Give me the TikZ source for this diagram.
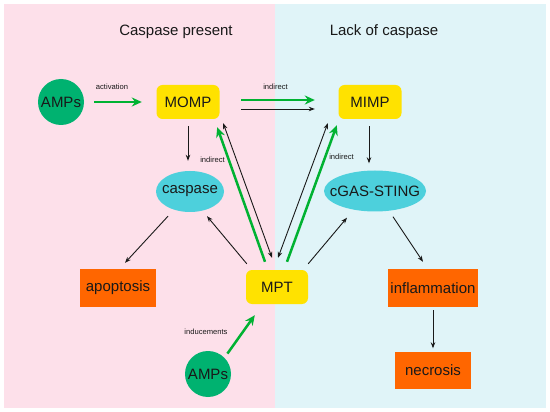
\documentclass[tikz,border=0pt]{standalone}
\usepackage{fontspec}
\setmainfont{Liberation Sans}
\usetikzlibrary{shapes.geometric,arrows.meta}
\definecolor{bgpink}{RGB}{253,224,234}
\definecolor{bgblue}{RGB}{224,244,248}
\definecolor{ampgreen}{RGB}{0,178,112}
\definecolor{arrowgreen}{RGB}{0,178,50}
\definecolor{boxyellow}{RGB}{255,226,0}
\definecolor{blobcyan}{RGB}{77,208,220}
\definecolor{boxorange}{RGB}{255,102,0}
\definecolor{inkgray}{RGB}{25,25,25}
\begin{document}
\begin{tikzpicture}[x=1pt, y=-1pt,
  big/.style={font=\fontsize{15}{18}\selectfont, text=inkgray},
  tiny/.style={font=\fontsize{7.6}{9}\selectfont, text=inkgray},
  amp/.style={big, circle, fill=ampgreen, minimum size=46pt, inner sep=0pt},
  yellowbox/.style={big, rectangle, rounded corners=6pt, fill=boxyellow, minimum width=63pt, minimum height=34pt},
  blob/.style={big, ellipse, fill=blobcyan, minimum height=41pt, inner xsep=-20pt, inner ysep=0pt},
  orangebox/.style={big, rectangle, fill=boxorange, minimum height=38pt, inner xsep=2pt},
  blackarr/.style={-{Stealth[length=6pt,width=4.5pt]}, line width=0.9pt, inkgray},
  botharr/.style={{Stealth[length=6pt,width=4.5pt]}-{Stealth[length=6pt,width=4.5pt]}, line width=0.9pt, inkgray},
  greenarr/.style={-{Stealth[length=10pt,width=9pt]}, line width=2.5pt, arrowgreen}]
\useasboundingbox (0,0) rectangle (550,412);
% two halves
\fill[bgpink] (4,4) rectangle (275,408);
\fill[bgblue] (275,4) rectangle (546,408);
\node[big] (leftTitle) at (176,32) {Caspase present};
\node[big] (rightTitle) at (384,32) {Lack of caspase};
% nodes
\node[amp] (ampTop) at (61,102) {AMPs};
\node[yellowbox] (momp) at (188,102) {MOMP};
\node[yellowbox] (mimp) at (370,102) {MIMP};
\node[blob, minimum width=68pt] (caspase) at (190,191.5) {caspase};
\node[blob, minimum width=102pt] (cgas) at (375,191) {cGAS-STING};
\node[orangebox, minimum width=76pt] (apoptosis) at (118,288) {apoptosis};
\node[yellowbox, minimum width=62pt] (mpt) at (277,287) {MPT};
\node[orangebox, minimum width=90pt] (inflammation) at (433,288) {inflammation};
\node[orangebox, minimum width=76pt, minimum height=37pt] (necrosis) at (433,370.5) {necrosis};
\node[amp] (ampBottom) at (208,374) {AMPs};
% labels
\node[tiny] (activationLbl) at (112,87) {activation};
\node[tiny] (indirectTop) at (275.5,87) {indirect};
\node[tiny] (indirectLeft) at (212.5,160) {indirect};
\node[tiny] (indirectRight) at (341.5,157) {indirect};
\node[tiny] (inducementsLbl) at (206,332) {inducements};
% connectors
\draw[greenarr, shorten <=10pt, shorten >=14.5pt] (ampTop) -- (momp);
\draw[greenarr] ([shift={(21.5,-2)}]momp.east) -- ([shift={(-23.5,-2)}]mimp.west);
\draw[blackarr] ([shift={(21.5,7)}]momp.east) -- ([shift={(-23.5,7)}]mimp.west);
\draw[blackarr, shorten <=7pt, shorten >=10pt] (momp.south) -- (momp.south |- caspase.north);
\draw[blackarr] ([shift={(-1,7)}]mimp.south) -- ([shift={(-6,-7)}]cgas.north);
\draw[blackarr] ([shift={(-22,4)}]caspase.south) -- ([shift={(7,-6)}]apoptosis.north);
\draw[blackarr] ([shift={(1,-6)}]mpt.north west) -- ([shift={(17,4)}]caspase.south);
\draw[blackarr] ([shift={(0,-6)}]mpt.north east) -- ([shift={(-28,6)}]cgas.south);
\draw[blackarr] ([shift={(18,5)}]cgas.south) -- ([shift={(-10,-7)}]inflammation.north);
\draw[blackarr, shorten <=3pt, shorten >=3.5pt] (inflammation) -- (necrosis);
\draw[greenarr] ([shift={(3,-4)}]ampBottom.45) -- ([shift={(9,11)}]mpt.south west);
\draw[greenarr] ([shift={(-12,-8)}]mpt.north) -- ([shift={(-2.5,8)}]momp.south east);
\draw[botharr] ([shift={(3.5,4)}]momp.south east) -- ([shift={(-5,-12)}]mpt.north);
\draw[greenarr] ([shift={(10,-8)}]mpt.north) -- ([shift={(-1.5,6)}]mimp.south west);
\draw[botharr] ([shift={(-10.5,4)}]mimp.south west) -- ([shift={(1,-12)}]mpt.north);
\end{tikzpicture}
\end{document}
